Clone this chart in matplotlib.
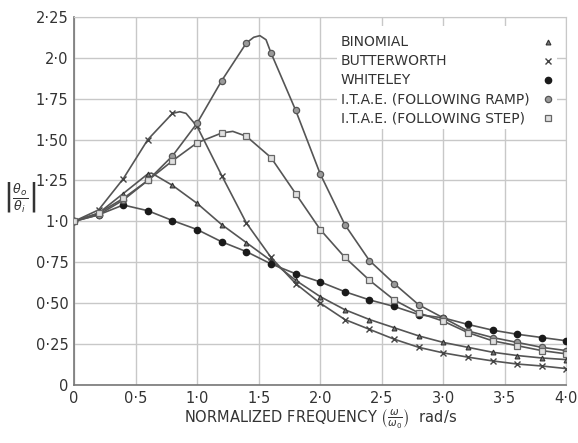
import numpy as np
import matplotlib
matplotlib.use("Agg")
import matplotlib.pyplot as plt
from matplotlib.patches import Rectangle

# normalized frequency, marker positions every 0.2
freq = [0.0, 0.2, 0.4, 0.6, 0.8, 1.0, 1.2, 1.4, 1.6, 1.8, 2.0,
        2.2, 2.4, 2.6, 2.8, 3.0, 3.2, 3.4, 3.6, 3.8, 4.0]

binomial = [1.0, 1.05, 1.17, 1.29, 1.22, 1.11, 0.98, 0.87, 0.76, 0.64, 0.54,
            0.46, 0.40, 0.35, 0.30, 0.26, 0.23, 0.20, 0.18, 0.165, 0.155]
butterworth = [1.0, 1.07, 1.26, 1.50, 1.66, 1.58, 1.28, 0.99, 0.78, 0.62, 0.50,
               0.40, 0.34, 0.28, 0.23, 0.196, 0.17, 0.147, 0.128, 0.116, 0.10]
whiteley = [1.0, 1.04, 1.10, 1.065, 1.005, 0.95, 0.875, 0.815, 0.74, 0.68, 0.63,
            0.57, 0.52, 0.48, 0.43, 0.41, 0.37, 0.335, 0.31, 0.29, 0.27]
itae_ramp = [1.0, 1.04, 1.13, 1.25, 1.40, 1.60, 1.86, 2.09, 2.03, 1.68, 1.29,
             0.98, 0.76, 0.62, 0.49, 0.41, 0.33, 0.29, 0.26, 0.23, 0.21]
itae_step = [1.0, 1.05, 1.14, 1.25, 1.37, 1.48, 1.54, 1.52, 1.39, 1.17, 0.95,
             0.78, 0.64, 0.52, 0.44, 0.39, 0.32, 0.27, 0.24, 0.21, 0.19]

# extra points (line only, around the peaks)
extra = {
    "binomial": [(0.63, 1.295)],
    "butterworth": [(0.86, 1.67), (0.91, 1.66)],
    "itae_ramp": [(1.46, 2.125), (1.51, 2.135), (1.56, 2.11)],
    "itae_step": [(1.29, 1.55)],
}

labels = ["BINOMIAL", "BUTTERWORTH", "WHITELEY",
          "I.T.A.E. (FOLLOWING RAMP)", "I.T.A.E. (FOLLOWING STEP)"]
xticks = [0, 0.5, 1.0, 1.5, 2.0, 2.5, 3.0, 3.5, 4.0]
xticklabels = ["0", "0·5", "1·0", "1·5", "2·0", "2·5", "3·0", "3·5", "4·0"]
yticks = [0, 0.25, 0.5, 0.75, 1.0, 1.25, 1.5, 1.75, 2.0, 2.25]
yticklabels = ["0", "0·25", "0·50", "0·75", "1·0", "1·25", "1·50", "1·75", "2·0", "2·25"]

LINE = "#555555"
TEXT = "#333333"
styles = {
    "binomial": dict(marker="^", ms=3.5, mfc="#777777", mec="#333333", mew=0.8),
    "butterworth": dict(marker="x", ms=4, mec="#444444", mew=1.0),
    "whiteley": dict(marker="o", ms=4.5, mfc="#1a1a1a", mec="#1a1a1a"),
    "itae_ramp": dict(marker="o", ms=4.5, mfc="#9a9a9a", mec="#555555", mew=0.9),
    "itae_step": dict(marker="s", ms=4, mfc="#e0e0e0", mec="#666666", mew=0.9),
}
series = {"binomial": binomial, "butterworth": butterworth, "whiteley": whiteley,
          "itae_ramp": itae_ramp, "itae_step": itae_step}

fig = plt.figure(figsize=(5.78, 4.43), dpi=100)
ax = fig.add_axes([0.128, 0.131, 0.852, 0.831])

for name, ys in series.items():
    pts = sorted(list(zip(freq, ys)) + extra.get(name, []))
    xs, yl = zip(*pts)
    ax.plot(xs, yl, "-", color=LINE, lw=1.2, zorder=2)
    ax.plot(freq, ys, ls="none", zorder=3, **styles[name])

ax.set_xlim(0, 4.0)
ax.set_ylim(0, 2.25)
ax.set_xticks(xticks)
ax.set_xticklabels(xticklabels)
ax.set_yticks(yticks)
ax.set_yticklabels(yticklabels)
ax.tick_params(length=0, labelsize=10.5, colors=TEXT, pad=4)
ax.grid(True, color="#c8c8c8", lw=1.0)
ax.set_axisbelow(True)
for s in ("top", "right"):
    ax.spines[s].set_color("#c8c8c8")
for s in ("left", "bottom"):
    ax.spines[s].set_color("#777777")
    ax.spines[s].set_linewidth(1.2)

ax.set_xlabel(r"NORMALIZED FREQUENCY $\left(\frac{\omega}{\omega_0}\right)$  rad/s",
              fontsize=10.5, color=TEXT, labelpad=2)
fig.text(0.035, 0.555, r"$\left|\frac{\theta_o}{\theta_i}\right|$",
         fontsize=13, color=TEXT, ha="center", va="center")

# legend: left-aligned labels, markers in a column on the right
ax.add_patch(Rectangle((0.535, 0.695), 0.445, 0.28, transform=ax.transAxes,
                       facecolor="white", edgecolor="none", zorder=1.5))
row_y = [0.932, 0.880, 0.828, 0.776, 0.724]
for name, lab, yy in zip(series, labels, row_y):
    ax.text(0.542, yy, lab, transform=ax.transAxes, fontsize=10, color=TEXT,
            ha="left", va="center", zorder=4)
    ax.plot([0.962], [yy], transform=ax.transAxes, ls="none", clip_on=False,
            zorder=4, **styles[name])

fig.savefig("out.png", dpi=100)
